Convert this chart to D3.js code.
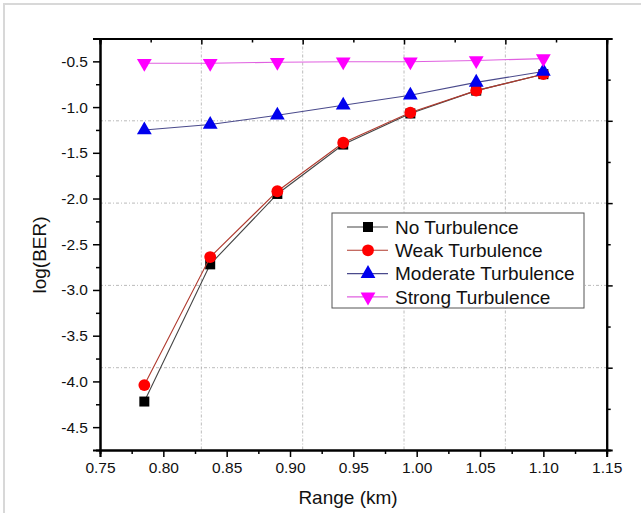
<!DOCTYPE html>
<html>
<head>
<meta charset="utf-8">
<script src="https://cdn.jsdelivr.net/npm/d3@7"></script>
<style>
  body { margin: 0; background: #fff; }
  text { font-family: "Liberation Sans", Arial, sans-serif; }
</style>
</head>
<body>
<svg width="641" height="513"></svg>
<script>
var range = [0.785, 0.837, 0.89, 0.942, 0.995, 1.047, 1.1];
var noTurb = [-4.22, -2.72, -1.95, -1.41, -1.07, -0.82, -0.64];
var weakTurb = [-4.04, -2.64, -1.92, -1.39, -1.06, -0.82, -0.64];
var modTurb = [-1.25, -1.19, -1.09, -0.98, -0.87, -0.73, -0.61];
var strongTurb = [-0.52, -0.52, -0.51, -0.505, -0.505, -0.49, -0.47];
var seriesNames = ["No Turbulence", "Weak Turbulence", "Moderate Turbulence", "Strong Turbulence"];
var xTicks = [0.75, 0.80, 0.85, 0.90, 0.95, 1.00, 1.05, 1.10, 1.15];
var yTicks = [-0.5, -1.0, -1.5, -2.0, -2.5, -3.0, -3.5, -4.0, -4.5];
var xGrid = [0.83, 0.91, 0.99, 1.07];
var yGrid = [-1.15, -2.05, -2.95, -3.85];

var svg = d3.select("svg"),
    margin = {top: 38.5, right: 34.3, bottom: 63, left: 100},
    width = 641 - margin.left - margin.right,
    height = 513 - margin.top - margin.bottom;

// faint frame round the picture (only top and left show)
svg.append("rect").attr("x", 4).attr("y", 4).attr("width", 700).attr("height", 600)
  .attr("fill", "none").attr("stroke", "#d8d8d8").attr("stroke-width", 2);

var x = d3.scaleLinear().domain([0.75, 1.15]).range([0, width]),
    y = d3.scaleLinear().domain([-4.75, -0.25]).range([height, 0]);

var g = svg.append("g").attr("transform", "translate(" + margin.left + "," + margin.top + ")");

// grid
g.selectAll(".vgrid").data(xGrid).enter().append("line")
  .attr("x1", d => x(d)).attr("x2", d => x(d)).attr("y1", 0).attr("y2", height)
  .attr("stroke", "#aaa").attr("stroke-dasharray", "3,2,1,2").attr("stroke-width", 0.8);
g.selectAll(".hgrid").data(yGrid).enter().append("line")
  .attr("y1", d => y(d)).attr("y2", d => y(d)).attr("x1", 0).attr("x2", width)
  .attr("stroke", "#aaa").attr("stroke-dasharray", "3,2,1,2").attr("stroke-width", 0.8);

// axes
var minorX = d3.range(0.775, 1.15, 0.05);
var minorY = d3.range(-0.75, -4.75, -0.5);

g.append("g").attr("transform", "translate(0," + height + ")")
  .call(d3.axisBottom(x).tickValues(xTicks).tickFormat(d => d.toFixed(2)).tickSize(7).tickPadding(5));
g.append("g").attr("transform", "translate(0," + height + ")")
  .call(d3.axisBottom(x).tickValues(minorX).tickFormat("").tickSize(4));
g.append("g")
  .call(d3.axisLeft(y).tickValues(yTicks).tickFormat(d => d.toFixed(1)).tickSize(7).tickPadding(5));
g.append("g").call(d3.axisLeft(y).tickValues(minorY).tickFormat("").tickSize(4));

// top and right axes (Origin style)
var topMajor = [0.83, 0.91, 0.99, 1.07], topMinor = [0.79, 0.87, 0.95, 1.03, 1.11];
g.append("g").call(d3.axisTop(x).tickValues(topMajor).tickFormat("").tickSize(-6));
g.append("g").call(d3.axisTop(x).tickValues(topMinor).tickFormat("").tickSize(-4));
var rightMajor = [-1.15, -2.05, -2.95, -3.85], rightMinor = [-0.7, -1.6, -2.5, -3.4, -4.3];
g.append("g").attr("transform", "translate(" + width + ",0)")
  .call(d3.axisRight(y).tickValues(rightMajor).tickFormat("").tickSize(6));
g.append("g").attr("transform", "translate(" + width + ",0)")
  .call(d3.axisRight(y).tickValues(rightMinor).tickFormat("").tickSize(4));

g.selectAll(".domain").attr("stroke", "#000").attr("stroke-width", 2);
g.selectAll(".tick line").attr("stroke", "#000").attr("stroke-width", 1.5);
g.selectAll(".tick text").attr("font-size", 15.5).attr("fill", "#111")
  .attr("font-family", "Liberation Sans, Arial, sans-serif");

// titles
svg.append("text").attr("x", 348).attr("y", 504)
  .attr("text-anchor", "middle").attr("font-size", 19).attr("fill", "#111").text("Range (km)");
svg.append("text").attr("transform", "translate(46,255) rotate(-90)")
  .attr("text-anchor", "middle").attr("font-size", 19).attr("fill", "#111").text("log(BER)");

// series
var styles = [
  {data: noTurb, line: "#444", fill: "#000", shape: d3.symbolSquare, size: 100},
  {data: weakTurb, line: "#b03a2e", fill: "#ff0000", shape: d3.symbolCircle, size: 110},
  {data: modTurb, line: "#4a4a8c", fill: "#0000ee", shape: d3.symbolTriangle, size: 95},
  {data: strongTurb, line: "#e060e0", fill: "#ff00ff", shape: d3.symbolTriangle, size: 95, flip: true}
];

var line = d3.line().x(d => x(d[0])).y(d => y(d[1]));

styles.forEach(function(s) {
  var pts = range.map((r, i) => [r, s.data[i]]);
  g.append("path").datum(pts).attr("d", line)
    .attr("fill", "none").attr("stroke", s.line).attr("stroke-width", 1.1);
  g.selectAll(null).data(pts).enter().append("path")
    .attr("d", d3.symbol().type(s.shape).size(s.size))
    .attr("transform", d => "translate(" + x(d[0]) + "," + y(d[1]) + ")" + (s.flip ? " rotate(180)" : ""))
    .attr("fill", s.fill);
});

// legend
var lg = svg.append("g").attr("transform", "translate(332,213)");
lg.append("rect").attr("width", 252).attr("height", 95)
  .attr("fill", "#fff").attr("stroke", "#555").attr("stroke-width", 1);
styles.forEach(function(s, i) {
  var yy = 14 + i * 23.3;
  lg.append("line").attr("x1", 15).attr("x2", 56).attr("y1", yy).attr("y2", yy)
    .attr("stroke", s.line).attr("stroke-width", 1.1);
  lg.append("path").attr("d", d3.symbol().type(s.shape).size(s.size))
    .attr("transform", "translate(36," + yy + ")" + (s.flip ? " rotate(180)" : ""))
    .attr("fill", s.fill);
  lg.append("text").attr("x", 63).attr("y", yy).attr("dy", "0.36em")
    .attr("font-size", 19).attr("fill", "#111").text(seriesNames[i]);
});
</script>
</body>
</html>
